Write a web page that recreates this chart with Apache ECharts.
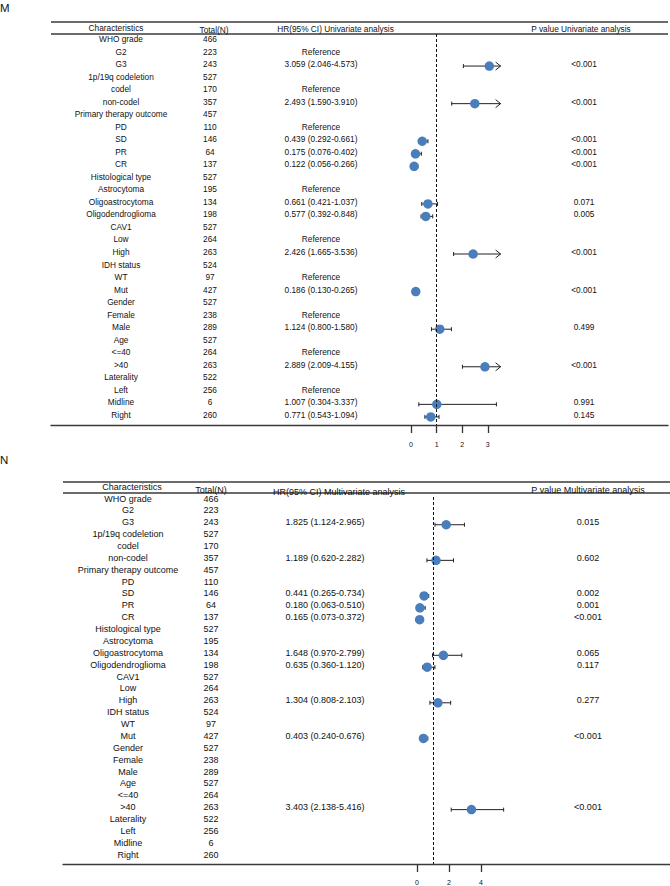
<!DOCTYPE html>
<html><head><meta charset="utf-8">
<script src="https://cdn.jsdelivr.net/npm/echarts@6/dist/echarts.min.js"></script>
<style>html,body{margin:0;padding:0;background:#fff}#c{width:670px;height:886px}</style>
</head><body><div id="c"></div>
<script>
// ---------------- DATA ----------------
const characteristics = ["WHO grade","G2","G3","1p/19q codeletion","codel","non-codel","Primary therapy outcome","PD","SD","PR","CR","Histological type","Astrocytoma","Oligoastrocytoma","Oligodendroglioma","CAV1","Low","High","IDH status","WT","Mut","Gender","Female","Male","Age","<=40",">40","Laterality","Left","Midline","Right"];
const totals = [466,223,243,527,170,357,457,110,146,64,137,527,195,134,198,527,264,263,524,97,427,527,238,289,527,264,263,522,256,6,260];

const uniReferenceRows = ["G2","codel","PD","Astrocytoma","Low","WT","Female","<=40","Left"];
const uniRows  = ["G3","non-codel","SD","PR","CR","Oligoastrocytoma","Oligodendroglioma","High","Mut","Male",">40","Midline","Right"];
const uniHR    = [3.059,2.493,0.439,0.175,0.122,0.661,0.577,2.426,0.186,1.124,2.889,1.007,0.771];
const uniLow   = [2.046,1.590,0.292,0.076,0.056,0.421,0.392,1.665,0.130,0.800,2.009,0.304,0.543];
const uniHigh  = [4.573,3.910,0.661,0.402,0.266,1.037,0.848,3.536,0.265,1.580,4.155,3.337,1.094];
const uniP     = ["<0.001","<0.001","<0.001","<0.001","<0.001","0.071","0.005","<0.001","<0.001","0.499","<0.001","0.991","0.145"];

const multiReferenceRows = [];
const multiRows = ["G3","non-codel","SD","PR","CR","Oligoastrocytoma","Oligodendroglioma","High","Mut",">40"];
const multiHR   = [1.825,1.189,0.441,0.180,0.165,1.648,0.635,1.304,0.403,3.403];
const multiLow  = [1.124,0.620,0.265,0.063,0.073,0.970,0.360,0.808,0.240,2.138];
const multiHigh = [2.965,2.282,0.734,0.510,0.372,2.799,1.120,2.103,0.676,5.416];
const multiP    = ["0.015","0.602","0.002","0.001","<0.001","0.065","0.117","0.277","<0.001","<0.001"];

const uniTicks = [0,1,2,3];
const multiTicks = [0,2,4];
const uniHeaders = ["Characteristics","Total(N)","HR(95% CI) Univariate analysis","P value Univariate analysis"];
const multiHeaders = ["Characteristics","Total(N)","HR(95% CI) Multivariate analysis","P value Multivariate analysis"];
const panelLabels = ["M","N"];
const referenceText = "Reference";
const nullLine = 1;

// ---------------- LAYOUT ----------------
const FONT = '"Liberation Sans", Arial, Helvetica, sans-serif';
const layouts = [
  { labelY: 8, ruleTop: 22, ruleHead: 34, gridTop: 34, gridBottom: 425, left: 51, right: 668,
    zeroX: 411, unit: 25.6, rowStart: 40, rowStep: 12.53, textDy: -1, pointDy: 1, fs: 8.3,
    cols: [121, 210, 321, 584], headX: [116, 214, 335.5, 581], headY: [28, 30, 29, 29], clipMax: 3.5, tickMargin: 16 },
  { labelY: 460, ruleTop: 482, ruleHead: 493, gridTop: 497, gridBottom: 864, left: 63, right: 670,
    zeroX: 417, unit: 16, rowStart: 500, rowStep: 11.87, textDy: -1.5, pointDy: 1, fs: 9,
    cols: [128, 211, 325, 588], headX: [132, 211, 339, 588], headY: [487, 490, 492, 490], clipMax: Infinity, tickMargin: 15 }
];
const datasets = [
  { ref: uniReferenceRows, rows: uniRows, hr: uniHR, lo: uniLow, hi: uniHigh, p: uniP, ticks: uniTicks, headers: uniHeaders },
  { ref: multiReferenceRows, rows: multiRows, hr: multiHR, lo: multiLow, hi: multiHigh, p: multiP, ticks: multiTicks, headers: multiHeaders }
];

const RULE = { stroke: '#3a3a3a', lineWidth: 1.3 };
const option = { animation: false, backgroundColor: '#fff', grid: [], xAxis: [], yAxis: [], series: [], graphic: [] };

layouts.forEach((L, k) => {
  const D = datasets[k];
  const yMin = -(L.rowStart - L.gridTop) / L.rowStep;
  option.grid.push({ left: L.left, top: L.gridTop, width: L.right - L.left, height: L.gridBottom - L.gridTop,
    containLabel: false, outerBoundsMode: 'none' });
  option.xAxis.push({ type: 'value', gridIndex: k,
    min: (L.left - L.zeroX) / L.unit, max: (L.right - L.zeroX) / L.unit,
    splitLine: { show: false },
    axisLine: { show: true, onZero: false, lineStyle: { color: '#3a3a3a', width: 1.3 } },
    axisTick: { show: true, customValues: D.ticks, length: 8, lineStyle: { color: '#333', width: 1.3 } },
    axisLabel: { show: true, customValues: D.ticks, margin: L.tickMargin, fontSize: 7, color: '#111', fontFamily: FONT } });
  option.yAxis.push({ type: 'value', gridIndex: k, inverse: true, min: yMin,
    max: yMin + (L.gridBottom - L.gridTop) / L.rowStep, show: false,
    splitLine: { show: false }, axisLine: { show: false } });

  const hrText = characteristics.map(n => {
    if (D.ref.includes(n)) return referenceText;
    const j = D.rows.indexOf(n);
    return j < 0 ? '' : `${D.hr[j].toFixed(3)} (${D.lo[j].toFixed(3)}-${D.hi[j].toFixed(3)})`;
  });
  const pText = characteristics.map(n => { const j = D.rows.indexOf(n); return j < 0 ? '' : D.p[j]; });

  // table text columns
  option.series.push({
    type: 'custom', coordinateSystem: 'cartesian2d', xAxisIndex: k, yAxisIndex: k, clip: false, silent: true,
    encode: { x: 0, y: 1 },
    data: characteristics.map((n, i) => [0, i]),
    renderItem: (params, api) => {
      const i = params.dataIndex;
      const y = api.coord([0, api.value(1)])[1] + L.textDy;
      const cells = [characteristics[i], String(totals[i]), hrText[i], pText[i]];
      return { type: 'group', children: cells.map((s, c) => ({
        type: 'text', x: L.cols[c], y: y,
        style: { text: s, x: 0, y: 0, align: 'center', verticalAlign: 'middle',
          fontSize: L.fs, fontFamily: FONT, fill: '#111' } })) };
    }
  });

  // confidence intervals
  option.series.push({
    type: 'custom', coordinateSystem: 'cartesian2d', xAxisIndex: k, yAxisIndex: k, clip: false, silent: true, z: 2,
    encode: { x: [0, 1], y: 2 },
    data: D.rows.map((n, j) => [D.lo[j], Math.min(D.hi[j], L.clipMax), characteristics.indexOf(n), D.hi[j] > L.clipMax ? 1 : 0]),
    renderItem: (params, api) => {
      const row = api.value(2);
      const a = api.coord([api.value(0), row]);
      const b = api.coord([api.value(1), row]);
      const y = a[1] + L.pointDy;
      const st = { stroke: '#222', lineWidth: 1 };
      const ch = [
        { type: 'line', shape: { x1: a[0], y1: y, x2: b[0], y2: y }, style: st },
        { type: 'line', shape: { x1: a[0], y1: y - 2, x2: a[0], y2: y + 2 }, style: st }
      ];
      if (api.value(3)) ch.push({ type: 'polyline', shape: { points: [[b[0] - 5, y - 4], [b[0], y], [b[0] - 5, y + 4]] }, style: { stroke: '#222', lineWidth: 1, fill: null } });
      else ch.push({ type: 'line', shape: { x1: b[0], y1: y - 2, x2: b[0], y2: y + 2 }, style: st });
      return { type: 'group', children: ch };
    }
  });

  // points + null line
  option.series.push({
    type: 'scatter', xAxisIndex: k, yAxisIndex: k, z: 3, silent: true,
    symbolSize: 9.5, symbolOffset: [0, L.pointDy],
    itemStyle: { color: '#4a7ebb', opacity: 1 },
    data: D.rows.map((n, j) => [D.hr[j], characteristics.indexOf(n)]),
    markLine: { silent: true, symbol: ['none', 'none'], label: { show: false },
      lineStyle: { type: [3, 2], color: '#111', width: 1 },
      data: [{ xAxis: nullLine }] }
  });

  // panel label, rules, headers
  option.graphic.push({ type: 'text', x: 0, y: L.labelY,
    style: { text: panelLabels[k], align: 'left', verticalAlign: 'middle', fontSize: 11.5, fontFamily: FONT, fill: '#111' } });
  option.graphic.push({ type: 'line', shape: { x1: L.left, y1: L.ruleTop, x2: L.right, y2: L.ruleTop }, style: RULE });
  option.graphic.push({ type: 'line', shape: { x1: L.left, y1: L.ruleHead, x2: L.right, y2: L.ruleHead }, style: RULE });
  D.headers.forEach((h, c) => option.graphic.push({ type: 'text', x: L.headX[c], y: L.headY[c],
    style: { text: h, align: 'center', verticalAlign: 'middle', fontSize: L.fs, fontFamily: FONT, fill: '#111' } }));
});

const chart = echarts.init(document.getElementById('c'), null, { renderer: 'svg', width: 670, height: 886 });
chart.setOption(option);
</script>
</body></html>
